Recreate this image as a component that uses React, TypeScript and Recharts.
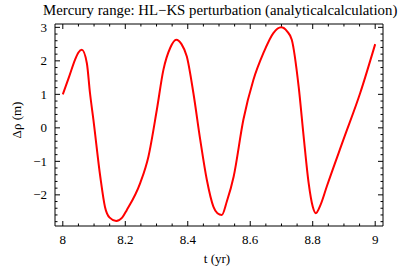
import React from "react";
import { LineChart, Line, XAxis, YAxis } from "recharts";

const times = [
  8.0, 8.02, 8.039, 8.05, 8.061, 8.077, 8.087, 8.098, 8.12, 8.135, 8.15, 8.171,
  8.19, 8.205, 8.248, 8.274, 8.301, 8.322, 8.344, 8.363, 8.38, 8.397, 8.418,
  8.44, 8.461, 8.482, 8.495, 8.509, 8.525, 8.547, 8.578, 8.61, 8.642, 8.674,
  8.699, 8.718, 8.733, 8.755, 8.771, 8.787, 8.8, 8.81, 8.825, 8.845, 8.898,
  8.952, 9.0,
];
const rho = [
  1.0, 1.52, 2.03, 2.25, 2.33, 1.93, 1.04, 0.24, -1.46, -2.36, -2.68, -2.78,
  -2.68, -2.45, -1.64, -0.86, 0.54, 1.73, 2.39, 2.63, 2.5, 2.13, 1.04, -0.36,
  -1.55, -2.35, -2.55, -2.6, -2.2, -1.45, 0.24, 1.43, 2.23, 2.83, 3.0, 2.88,
  2.63, 1.23, -0.26, -1.65, -2.35, -2.55, -2.3, -1.75, -0.36, 1.04, 2.5,
];
const xMajor = [8, 8.2, 8.4, 8.6, 8.8, 9];
const xTicks = [
  8, 8.05, 8.1, 8.15, 8.2, 8.25, 8.3, 8.35, 8.4, 8.45, 8.5, 8.55, 8.6, 8.65,
  8.7, 8.75, 8.8, 8.85, 8.9, 8.95, 9,
];
const yMajor = [-2, -1, 0, 1, 2, 3];
const yTicks = [
  -2.8, -2.6, -2.4, -2.2, -2, -1.8, -1.6, -1.4, -1.2, -1, -0.8, -0.6, -0.4,
  -0.2, 0, 0.2, 0.4, 0.6, 0.8, 1, 1.2, 1.4, 1.6, 1.8, 2, 2.2, 2.4, 2.6, 2.8, 3,
];

const data = times.map((t, i) => ({ t, rho: rho[i] }));

const font = "'Liberation Serif', 'Times New Roman', serif";
const isMajor = (list: number[], v: number) =>
  list.some((m) => Math.abs(m - v) < 1e-6);
const fmt = (v: number) => (v < 0 ? "\u2212" + Math.abs(v) : String(v));

const tickBottom = (p: any) => {
  const major = isMajor(xMajor, p.payload.value);
  return (
    <g>
      <line x1={p.x} x2={p.x} y1={p.y} y2={p.y - (major ? 5 : 2.5)} stroke="#000" />
      {major && (
        <text x={p.x} y={p.y + 18} textAnchor="middle" fontFamily={font} fontSize={13} fill="#000">
          {p.payload.value}
        </text>
      )}
    </g>
  );
};
const tickTop = (p: any) => {
  const major = isMajor(xMajor, p.payload.value);
  return <line x1={p.x} x2={p.x} y1={p.y} y2={p.y + (major ? 5 : 2.5)} stroke="#000" />;
};
const tickLeft = (p: any) => {
  const major = isMajor(yMajor, p.payload.value);
  return (
    <g>
      <line x1={p.x} x2={p.x + (major ? 5 : 2.5)} y1={p.y} y2={p.y} stroke="#000" />
      {major && (
        <text x={p.x - 8} y={p.y + 4.5} textAnchor="end" fontFamily={font} fontSize={13} fill="#000">
          {fmt(p.payload.value)}
        </text>
      )}
    </g>
  );
};
const tickRight = (p: any) => {
  const major = isMajor(yMajor, p.payload.value);
  return <line x1={p.x} x2={p.x - (major ? 5 : 2.5)} y1={p.y} y2={p.y} stroke="#000" />;
};

export default function App() {
  return (
    <div style={{ position: "absolute", left: 0, top: 0, width: 398, height: 270, background: "#fff" }}>
      <LineChart
        width={398}
        height={270}
        data={data}
        margin={{ top: 23, right: 14, bottom: 0, left: 0 }}
      >
        <XAxis
          dataKey="t"
          type="number"
          domain={[7.975, 9.025]}
          allowDataOverflow
          ticks={xTicks}
          interval={0}
          height={44}
          tickSize={0}
          tickMargin={0}
          tick={tickBottom}
          axisLine={{ stroke: "#000" }}
        />
        <XAxis
          xAxisId="top"
          orientation="top"
          dataKey="t"
          type="number"
          domain={[7.975, 9.025]}
          allowDataOverflow
          ticks={xTicks}
          interval={0}
          height={1}
          tickSize={0}
          tickMargin={0}
          tick={tickTop}
          axisLine={{ stroke: "#000" }}
        />
        <YAxis
          type="number"
          domain={[-2.93, 3.1]}
          allowDataOverflow
          ticks={yTicks}
          interval={0}
          width={55}
          tickSize={0}
          tickMargin={0}
          tick={tickLeft}
          axisLine={{ stroke: "#000" }}
        />
        <YAxis
          yAxisId="right"
          orientation="right"
          type="number"
          domain={[-2.93, 3.1]}
          allowDataOverflow
          ticks={yTicks}
          interval={0}
          width={1}
          tickSize={0}
          tickMargin={0}
          tick={tickRight}
          axisLine={{ stroke: "#000" }}
        />
        <Line
          type="monotone"
          dataKey="rho"
          stroke="#ff0000"
          strokeWidth={2}
          dot={false}
          isAnimationActive={false}
        />
      </LineChart>
      <svg
        width={398}
        height={270}
        style={{ position: "absolute", left: 0, top: 0, pointerEvents: "none" }}
      >
        <text x={43} y={15} textAnchor="start" fontFamily={font} fontSize={14.8} fill="#000">
          Mercury range: HL{"\u2212"}KS perturbation (analyticalcalculation)
        </text>
        <text x={217} y={263} textAnchor="middle" fontFamily={font} fontSize={13} fill="#000">
          t (yr)
        </text>
        <text
          x={21}
          y={120}
          textAnchor="middle"
          fontFamily={font}
          fontSize={13}
          fill="#000"
          transform="rotate(-90, 21, 120)"
        >
          {"\u0394\u03c1 (m)"}
        </text>
      </svg>
    </div>
  );
}
